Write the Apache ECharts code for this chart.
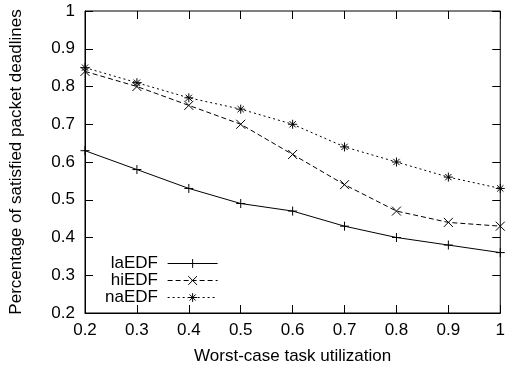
<!DOCTYPE html>
<html>
<head>
<meta charset="utf-8">
<script src="https://cdn.jsdelivr.net/npm/echarts@6/dist/echarts.min.js"></script>
<style>
  html, body { margin: 0; padding: 0; background: #fff; }
  #chart { width: 508px; height: 371px; }
</style>
</head>
<body>
<div id="chart"></div>
<script>
var utilization = [0.2, 0.3, 0.4, 0.5, 0.6, 0.7, 0.8, 0.9, 1.0];
var laEDF = [0.63, 0.58, 0.53, 0.49, 0.47, 0.43, 0.40, 0.38, 0.36];
var hiEDF = [0.84, 0.80, 0.75, 0.70, 0.62, 0.54, 0.47, 0.44, 0.43];
var naEDF = [0.85, 0.81, 0.77, 0.74, 0.70, 0.64, 0.60, 0.56, 0.53];

var plusPath = 'path://M0,5L10,5M5,0L5,10';
var crossPath = 'path://M0,0L10,10M10,0L0,10';
var starPath = 'path://M0,5L10,5M5,0L5,10M1.5,1.5L8.5,8.5M8.5,1.5L1.5,8.5';

function pairs(ys) {
    return utilization.map(function (x, i) { return [x, ys[i]]; });
}

function makeSeries(name, ys, symbol, dash) {
    return {
        name: name,
        type: 'line',
        data: pairs(ys),
        symbol: symbol,
        symbolSize: 9,
        showAllSymbol: true,
        animation: false,
        lineStyle: { color: '#000', width: 1, type: dash },
        itemStyle: { color: '#000', borderColor: '#000', borderWidth: 1 }
    };
}

var chart = echarts.init(document.getElementById('chart'));
var font = 'Liberation Sans';
var option = {
    animation: false,
    grid: {
        left: 83, right: 5, top: 11, bottom: 58,
        show: true, borderColor: '#000', borderWidth: 1
    },
    legend: {
        orient: 'vertical',
        align: 'right',
        left: 100,
        top: 250,
        itemWidth: 50,
        itemHeight: 11,
        itemGap: 0,
        formatter: function (n) { return n + ' '; },
        textStyle: { fontFamily: font, fontSize: 17, color: '#000' },
        lineStyle: { width: 1 },
        itemStyle: { borderWidth: 1 },
        data: ['laEDF', 'hiEDF', 'naEDF']
    },
    xAxis: [{
        type: 'value',
        min: 0.2, max: 1, interval: 0.1,
        name: 'Worst-case task utilization',
        nameLocation: 'middle',
        nameGap: 35,
        nameTextStyle: { fontFamily: font, fontSize: 17, color: '#000' },
        axisLine: { lineStyle: { color: '#000' } },
        axisTick: { inside: true, length: 8, lineStyle: { color: '#000' } },
        axisLabel: { margin: 9, fontFamily: font, fontSize: 17, color: '#000' },
        splitLine: { show: false }
    }, {
        type: 'value', position: 'top',
        min: 0.2, max: 1, interval: 0.1,
        axisLine: { show: false },
        axisTick: { inside: true, length: 8, lineStyle: { color: '#000' } },
        axisLabel: { show: false },
        splitLine: { show: false }
    }],
    yAxis: [{
        type: 'value',
        min: 0.2, max: 1, interval: 0.1,
        name: 'Percentage of satisfied packet deadlines',
        nameLocation: 'middle',
        nameGap: 60,
        nameTextStyle: { fontFamily: font, fontSize: 17, color: '#000' },
        axisLine: { show: true, lineStyle: { color: '#000' } },
        axisTick: { show: true, inside: true, length: 8, lineStyle: { color: '#000' } },
        axisLabel: { margin: 10, fontFamily: font, fontSize: 17, color: '#000' },
        splitLine: { show: false }
    }, {
        type: 'value', position: 'right',
        min: 0.2, max: 1, interval: 0.1,
        axisLine: { show: false },
        axisTick: { show: true, inside: true, length: 8, lineStyle: { color: '#000' } },
        axisLabel: { show: false },
        splitLine: { show: false }
    }],
    series: [
        makeSeries('laEDF', laEDF, plusPath, 'solid'),
        makeSeries('hiEDF', hiEDF, crossPath, [5, 3]),
        makeSeries('naEDF', naEDF, starPath, [2, 3])
    ]
};
chart.setOption(option);
window.addEventListener('resize', function () { chart.resize(); });
</script>
</body>
</html>
